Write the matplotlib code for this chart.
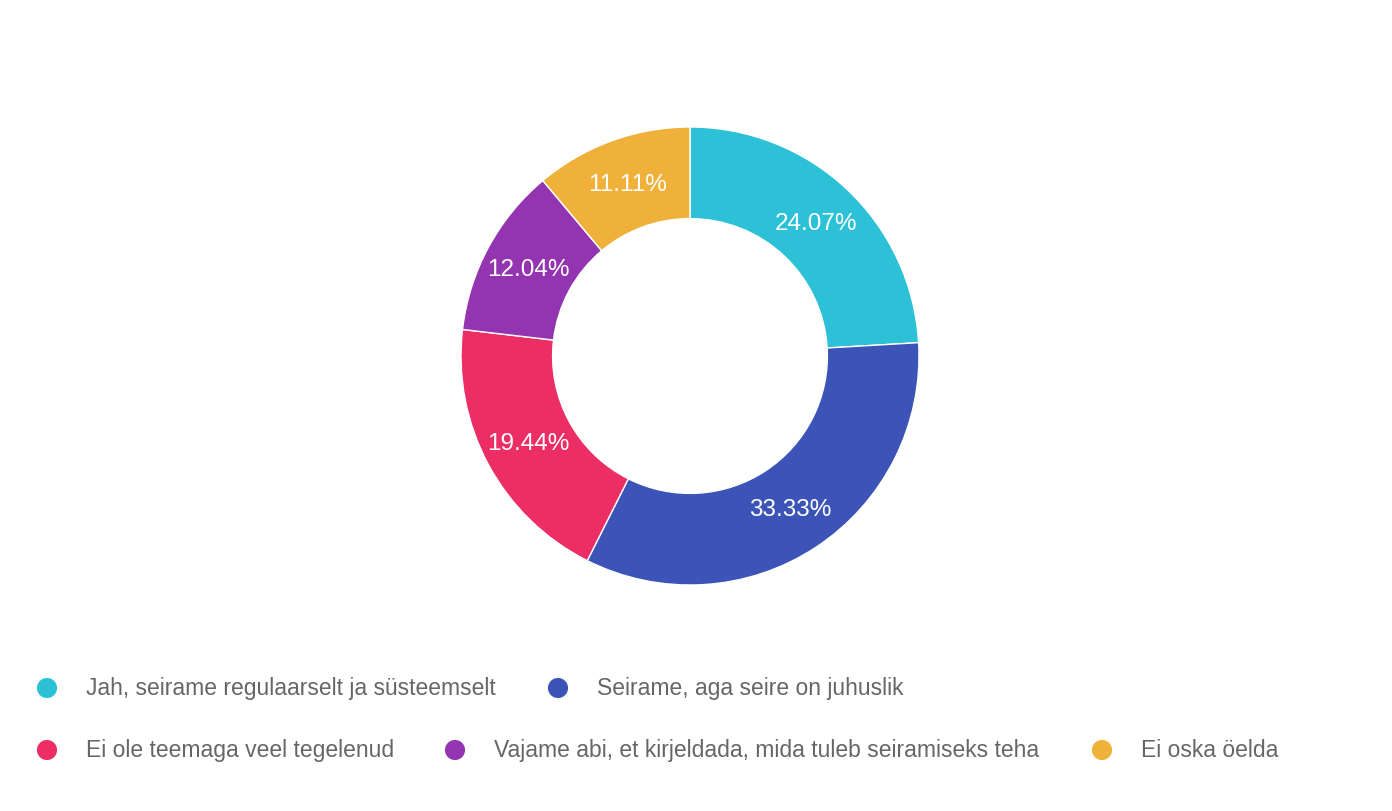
import matplotlib
matplotlib.use('Agg')
import matplotlib.pyplot as plt

plt.rcParams['font.family'] = ['Liberation Sans', 'DejaVu Sans']

# survey answers and their shares (%)
labels = ['Jah, seirame regulaarselt ja süsteemselt',
          'Seirame, aga seire on juhuslik',
          'Ei ole teemaga veel tegelenud',
          'Vajame abi, et kirjeldada, mida tuleb seiramiseks teha',
          'Ei oska öelda']
shares = [24.07, 33.33, 19.44, 12.04, 11.11]
colors = ['#2CC1D7', '#3C54B8', '#EC2E64', '#9334B0', '#F0B13A']

W, H = 1392, 812
fig = plt.figure(figsize=(W / 100, H / 100), dpi=100)

# donut centre (690, 357), outer radius 229 px
cx, cy, r = 690, 357, 229
ax = fig.add_axes([(cx - r) / W, 1 - (cy + r) / H, 2 * r / W, 2 * r / H])
wedges, texts, autotexts = ax.pie(
    shares, colors=colors, startangle=90, counterclock=False,
    radius=1, autopct='%.2f%%', pctdistance=0.8,
    wedgeprops=dict(width=0.4, edgecolor='white', linewidth=1),
    textprops=dict(color='white', fontsize=17.5))
ax.set_xlim(-1, 1)
ax.set_ylim(-1, 1)
ax.axis('off')

# legend drawn by hand in pixel coordinates
lax = fig.add_axes([0, 0, 1, 1])
lax.set_xlim(0, W)
lax.set_ylim(H, 0)
lax.axis('off')
leg_pos = [(47, 689), (558, 689), (47, 751), (455, 751), (1102, 751)]
for (x, y), lab, col in zip(leg_pos, labels, colors):
    lax.scatter([x], [y], s=210, color=col, edgecolors='none')
    lax.text(x + 39, y, lab, color='#666666', fontsize=16.5,
             va='center', ha='left')

fig.savefig('out.png', dpi=100, facecolor='white')
